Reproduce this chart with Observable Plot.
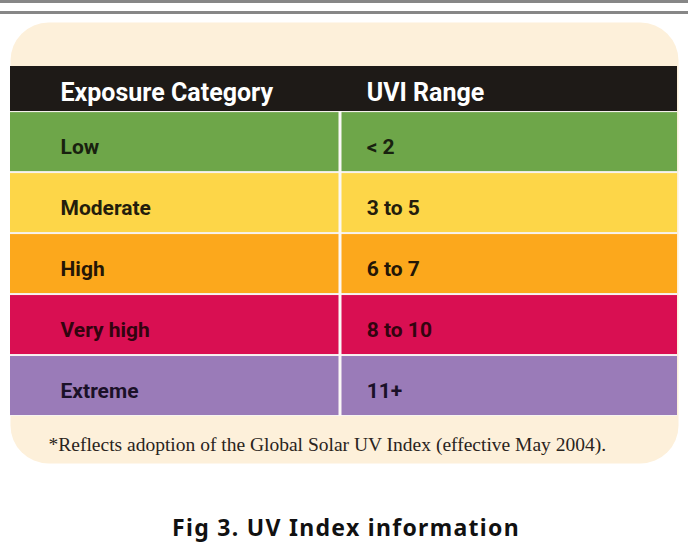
<!DOCTYPE html>
<html>
<head>
<meta charset="utf-8">
<script src="https://cdn.jsdelivr.net/npm/d3@7"></script>
<script src="https://cdn.jsdelivr.net/npm/@observablehq/plot@0.6"></script>
<style>
  html, body { margin: 0; padding: 0; background: #ffffff; }
  #page { position: relative; width: 688px; height: 547px; overflow: hidden; }
  .bar { position: absolute; left: 0; width: 688px; height: 3px; background: #878787; }
  #chart { position: absolute; left: 0; top: 0; }
  #caption { position: absolute; left: 0; width: 692px; top: 512px; line-height: 30px;
    text-align: center; font-family: "Noto Sans", "Open Sans", sans-serif; font-weight: 700;
    font-size: 23px; letter-spacing: 1.3px; color: #111; }
</style>
</head>
<body>
<div id="page">
  <div class="bar" style="top:0px"></div>
  <div class="bar" style="top:11px"></div>
  <div id="chart"></div>
  <div id="caption"></div>
</div>
<script>
// ---- data ----
const headers = ["Exposure Category", "UVI Range"];
const categories = ["Low", "Moderate", "High", "Very high", "Extreme"];
const uviRanges = ["< 2", "3 to 5", "6 to 7", "8 to 10", "11+"];
const footnote = "*Reflects adoption of the Global Solar UV Index (effective May 2004).";
const caption = "Fig 3. UV Index information";

// ---- styles ----
const palette = ["#6ea649", "#fdd648", "#fca81c", "#d90f52", "#9a7bb8"];
const textColors = ["#18210f", "#241d0c", "#241606", "#32040f", "#1b1128"];
const cream = "#fdf0da";
const headerFill = "#1e1a17";
const sansFont = "Roboto, 'Liberation Sans', sans-serif";

// ---- layout ----
const HH = 0.74;          // header height in row units
const split = 49.4;       // column boundary (x units, 0..100)
const textX = [7.5, 53.4];

const rows = categories.map((c, i) => ({category: c, range: uviRanges[i], i}));
const headerRow = [{h0: headers[0], h1: headers[1]}];

const plot = Plot.plot({
  width: 688,
  height: 490,
  marginLeft: 10, marginRight: 10, marginTop: 22, marginBottom: 27,
  style: {background: "transparent", overflow: "visible"},
  x: {type: "linear", domain: [0, 100], range: [10, 677], axis: null},
  y: {type: "linear", domain: [-HH, categories.length], range: [66, 416], axis: null},
  color: {type: "ordinal", domain: categories, range: palette},
  marks: [
    Plot.frame({fill: cream, stroke: null, rx: 38}),
    Plot.rect(headerRow, {x1: 0, x2: 100, y1: -HH, y2: 0, fill: headerFill}),
    Plot.rect(rows, {x1: 0, x2: 100, y1: d => d.i, y2: d => d.i + 1, fill: "#f7f3f0"}),
    Plot.rect(rows, {x1: 0, x2: 100, y1: d => d.i, y2: d => d.i + 1, fill: "category", insetTop: 1, insetBottom: 1}),
    Plot.ruleX([split], {y1: 0, y2: categories.length, stroke: "#fbf8f6", strokeWidth: 3}),
    Plot.text(headers, {x: (d, i) => textX[i], y: -HH / 2, text: d => d, textAnchor: "start",
      fill: "white", fontSize: 25, fontWeight: "bold", fontFamily: sansFont, dy: 4}),
    Plot.text(rows, {x: textX[0], y: d => d.i + 0.5, text: "category", textAnchor: "start",
      fill: d => textColors[d.i], fontSize: 21, fontWeight: "bold", fontFamily: sansFont, dy: 5}),
    Plot.text(rows, {x: textX[1], y: d => d.i + 0.5, text: "range", textAnchor: "start",
      fill: d => textColors[d.i], fontSize: 21, fontWeight: "bold", fontFamily: sansFont, dy: 5}),
    Plot.text([footnote], {frameAnchor: "bottom-left", text: d => d, textAnchor: "start",
      dx: 38, dy: -13, fill: "#2a2420", fontSize: 19.5, fontFamily: "'Liberation Serif', 'DejaVu Serif', serif"})
  ]
});
document.getElementById("chart").appendChild(plot);
document.getElementById("caption").textContent = caption;
</script>
</body>
</html>
